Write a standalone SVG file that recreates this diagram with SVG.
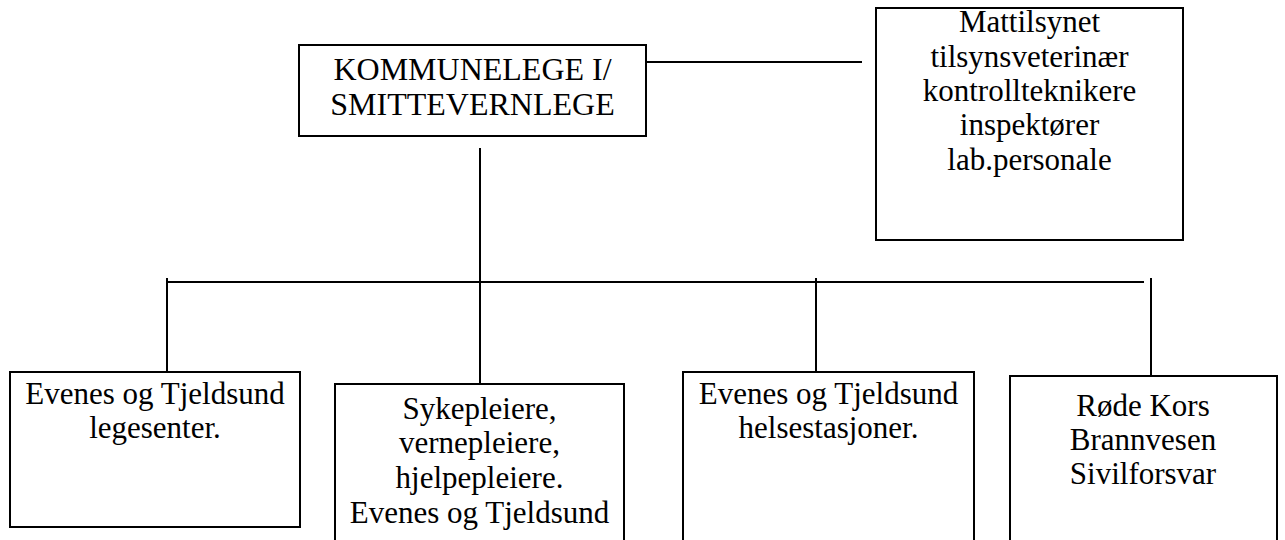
<svg xmlns="http://www.w3.org/2000/svg" width="1285" height="540" viewBox="0 0 1285 540">
<style>
rect{fill:#fff;stroke:#000;stroke-width:2}
line{stroke:#000;stroke-width:2}
</style>
<rect x="0" y="0" width="1285" height="540" style="stroke:none"/>
<g id="connectors">
<line x1="646" y1="62" x2="862" y2="62"/>
<line x1="480" y1="148" x2="480" y2="384"/>
<line x1="166" y1="282" x2="1144" y2="282"/>
<line x1="167" y1="278" x2="167" y2="372"/>
<line x1="816" y1="278" x2="816" y2="373"/>
<line x1="1151" y1="278" x2="1151" y2="376"/>
</g>
<g font-family="Liberation Serif, DejaVu Serif, serif" font-size="31" text-anchor="middle" fill="#000">
<g id="kommunelege" font-size="32">
<rect x="299" y="45" width="347" height="91"/>
<text x="472.5" y="80">KOMMUNELEGE I/</text>
<text x="472.5" y="115">SMITTEVERNLEGE</text>
</g>
<g id="mattilsynet">
<rect x="876" y="8" width="307" height="232"/>
<text x="1029.5" y="32">Mattilsynet</text>
<text x="1029.5" y="67">tilsynsveterinær</text>
<text x="1029.5" y="101">kontrollteknikere</text>
<text x="1029.5" y="135">inspektører</text>
<text x="1029.5" y="170">lab.personale</text>
</g>
<g id="legesenter">
<rect x="10" y="372" width="290" height="155"/>
<text x="155" y="404">Evenes og Tjeldsund</text>
<text x="155" y="438">legesenter.</text>
</g>
<g id="sykepleiere">
<rect x="335" y="384" width="289" height="160"/>
<text x="479.5" y="419">Sykepleiere,</text>
<text x="479.5" y="453">vernepleiere,</text>
<text x="479.5" y="488">hjelpepleiere.</text>
<text x="479.5" y="523">Evenes og Tjeldsund</text>
</g>
<g id="helsestasjoner">
<rect x="683" y="372" width="291" height="172"/>
<text x="828.5" y="404">Evenes og Tjeldsund</text>
<text x="828.5" y="438">helsestasjoner.</text>
</g>
<g id="rodekors">
<rect x="1010" y="376" width="267" height="168"/>
<text x="1143" y="416">Røde Kors</text>
<text x="1143" y="450">Brannvesen</text>
<text x="1143" y="484">Sivilforsvar</text>
</g>
</g>
</svg>
